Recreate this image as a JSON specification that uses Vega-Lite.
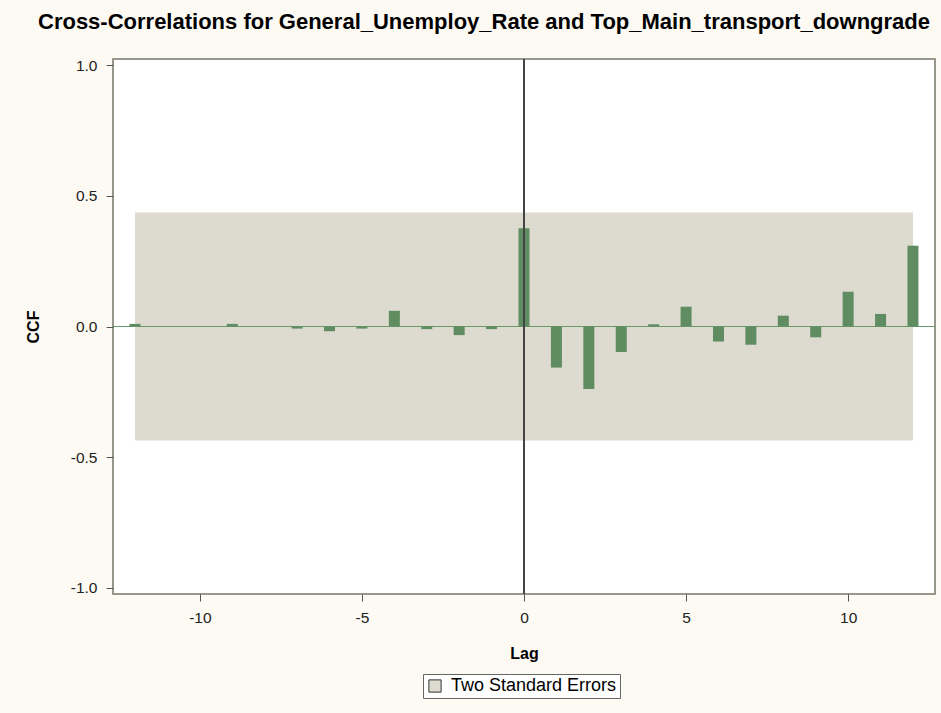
{
  "$schema": "https://vega.github.io/schema/vega-lite/v6.json",
  "autosize": {"type": "none"},
  "width": 822,
  "height": 535,
  "padding": {"left": 113, "top": 59, "right": 6, "bottom": 119},
  "background": "#fdfaf4",
  "title": {
    "text": "Cross-Correlations for General_Unemploy_Rate and Top_Main_transport_downgrade",
    "font": "Liberation Sans",
    "fontSize": 22,
    "fontWeight": "bold",
    "color": "#000000",
    "anchor": "middle",
    "dx": -40,
    "offset": 24
  },
  "config": {
    "view": {"stroke": "#77776a", "strokeWidth": 1.5, "fill": "#ffffff"},
    "axis": {
      "labelFont": "Liberation Sans",
      "labelFontSize": 15.5,
      "labelColor": "#222222",
      "titleFont": "Liberation Sans",
      "titleFontSize": 16,
      "titleFontWeight": "bold",
      "titleColor": "#000000",
      "tickColor": "#555555",
      "tickSize": 7,
      "domain": false,
      "grid": false,
      "labelExpr": "replace(datum.label, '−', '-')"
    },
    "legend": {
      "labelFont": "Liberation Sans",
      "labelFontSize": 18,
      "labelColor": "#000000",
      "labelLimit": 400
    }
  },
  "datasets": {
    "ccf": [
      {"lag": -12, "ccf": 0.01},
      {"lag": -11, "ccf": 0.0},
      {"lag": -10, "ccf": 0.0},
      {"lag": -9, "ccf": 0.01},
      {"lag": -8, "ccf": 0.0},
      {"lag": -7, "ccf": -0.008},
      {"lag": -6, "ccf": -0.018},
      {"lag": -5, "ccf": -0.008},
      {"lag": -4, "ccf": 0.06},
      {"lag": -3, "ccf": -0.01},
      {"lag": -2, "ccf": -0.033},
      {"lag": -1, "ccf": -0.01},
      {"lag": 0, "ccf": 0.3755},
      {"lag": 1, "ccf": -0.157},
      {"lag": 2, "ccf": -0.239},
      {"lag": 3, "ccf": -0.0975},
      {"lag": 4, "ccf": 0.0084},
      {"lag": 5, "ccf": 0.0757},
      {"lag": 6, "ccf": -0.0574},
      {"lag": 7, "ccf": -0.0696},
      {"lag": 8, "ccf": 0.0413},
      {"lag": 9, "ccf": -0.0413},
      {"lag": 10, "ccf": 0.133},
      {"lag": 11, "ccf": 0.048},
      {"lag": 12, "ccf": 0.309}
    ],
    "band": [
      {"lo": -12, "hi": 12, "lower": -0.4364, "upper": 0.4364, "label": "Two Standard Errors"}
    ]
  },
  "layer": [
    {
      "data": {"name": "band"},
      "mark": {"type": "rect"},
      "encoding": {
        "x": {"field": "lo", "type": "quantitative", "scale": {"domain": [-12.68, 12.68], "nice": false, "zero": false, "padding": 0},
          "axis": {"values": [-10, -5, 0, 5, 10], "title": "Lag", "labelPadding": 9, "titlePadding": 20}},
        "x2": {"field": "hi"},
        "y": {"field": "lower", "type": "quantitative", "scale": {"domain": [-1.023, 1.023], "nice": false, "padding": 0},
          "axis": {"values": [-1, -0.5, 0, 0.5, 1], "format": ".1f", "title": "CCF", "labelPadding": 9, "titlePadding": 29}},
        "y2": {"field": "upper"},
        "fill": {"field": "label", "type": "nominal", "scale": {"range": ["#dddacf"]},
          "legend": {"title": null, "orient": "none", "legendX": 310, "legendY": 615, "direction": "horizontal", "symbolType": "square", "symbolSize": 150, "symbolStrokeColor": "#333333", "symbolStrokeWidth": 1, "strokeColor": "#666666", "fillColor": "#ffffff", "padding": 3, "labelOffset": 7, "labelLimit": 400}}
      }
    },
    {
      "data": {"name": "ccf"},
      "mark": {"type": "rule", "color": "#6a9a6a", "strokeWidth": 1.2},
      "encoding": {"y": {"datum": 0}}
    },
    {
      "data": {"name": "ccf"},
      "mark": {"type": "bar", "color": "#5f8c60", "size": 11},
      "encoding": {
        "x": {"field": "lag", "type": "quantitative"},
        "y": {"field": "ccf", "type": "quantitative"}
      }
    },
    {
      "data": {"name": "ccf"},
      "mark": {"type": "rule", "color": "#444444", "strokeWidth": 1},
      "encoding": {"x": {"datum": 0}}
    }
  ]
}
